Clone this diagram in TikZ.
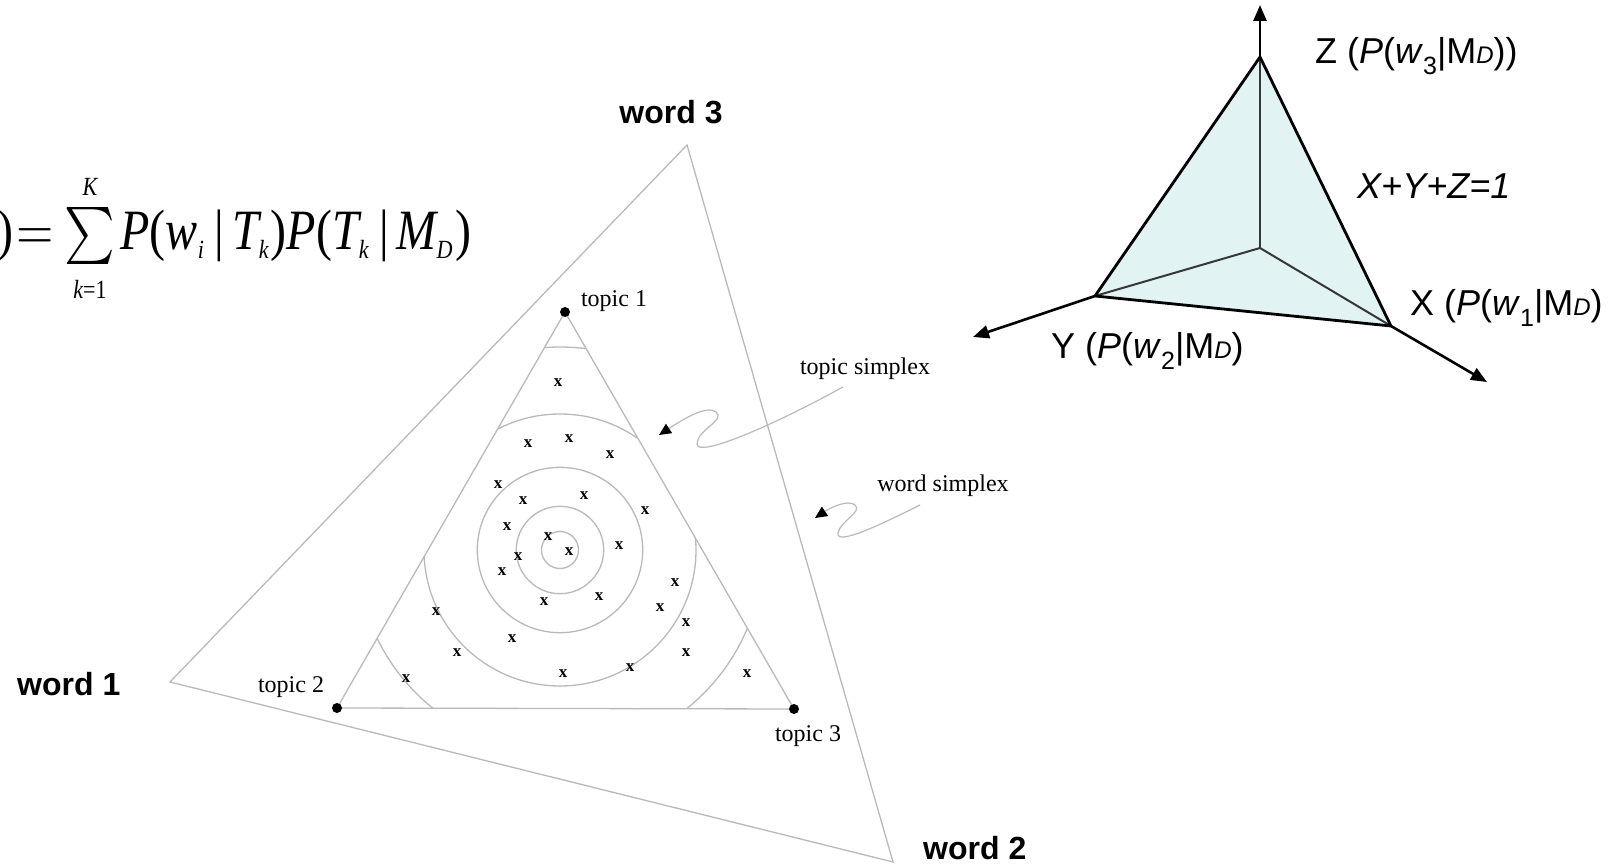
\documentclass[tikz,border=0pt]{standalone}
\usepackage{amsmath}
\usepackage{fontspec}
\setmainfont{Liberation Serif}
\setsansfont{Liberation Sans}
\usetikzlibrary{arrows.meta}
\definecolor{simplexgrey}{RGB}{185,185,185}
\definecolor{planefill}{RGB}{226,243,243}
\definecolor{innerline}{RGB}{55,55,55}
\begin{document}
\begin{tikzpicture}[x=1pt,y=-1pt,
  simplexline/.style={draw=simplexgrey,line width=1.3pt},
  squiggle/.style={draw=simplexgrey,line width=1.2pt,-{Triangle[length=12pt,width=11pt,color=black]}},
  topicdot/.style={circle,fill=black,inner sep=0pt,minimum size=10pt},
  xmark/.style={inner sep=0pt,font=\fontsize{17}{17}\selectfont\bfseries},
  serlabel/.style={inner sep=0pt,font=\fontsize{24}{26}\selectfont},
  wordlabel/.style={inner sep=0pt,font=\sffamily\bfseries\fontsize{32}{34}\selectfont},
  axlabel/.style={inner sep=0pt,anchor=base west,font=\sffamily\fontsize{36}{40}\selectfont},
  axis/.style={line width=2.6pt,-{Triangle[length=16pt,width=13pt]}},
  edge3d/.style={line width=2.8pt,line join=round},
  inner3d/.style={draw=innerline,line width=2pt}]
\useasboundingbox (0,0) rectangle (1623,866);
\newcommand{\smallD}{{\fontsize{24}{24}\selectfont\itshape D}}
\newcommand{\lowsub}[1]{\raisebox{-0.28em}{\fontsize{25}{25}\selectfont #1}}
\newcommand{\ti}[1]{\text{\itshape #1}}
\newcommand{\tu}[1]{\text{#1}}
\newcommand{\limtxt}[1]{\text{\fontsize{4.6}{5}\selectfont #1}}

% formula
\node[anchor=base west,inner sep=0pt,xscale=4.8,yscale=5.7,font=\fontsize{10}{12}\selectfont] (formula) at (-3,250)
  {$\tu{)}\mkern1mu{=}\mkern1mu\sum\limits_{\limtxt{\rule{0pt}{1.35ex}\itshape k\upshape =1}}^{\limtxt{\itshape K}}\mkern-1mu\ti{P}\tu{(}\ti{w}_{\limtxt{\itshape i}}\mkern3mu\tu{|}\mkern3mu\ti{T}_{\limtxt{\itshape k}}\tu{)}\ti{P}\tu{(}\ti{T}_{\limtxt{\itshape k}}\mkern3mu\tu{|}\mkern3mu\ti{M}_{\limtxt{\itshape D}}\tu{)}$};

% word simplex
\coordinate (w3) at (687,145);
\coordinate (w1) at (170,682);
\coordinate (w2) at (893,862);
\path[simplexline] (w3) -- (w1) -- (w2) -- cycle;
\node[wordlabel] (word3) at (671,112) {word 3};
\node[wordlabel,anchor=base west] (word1) at (17,695) {word 1};
\node[wordlabel,anchor=base west] (word2) at (923,859) {word 2};

% topic simplex
\coordinate (t1) at (565,312);
\coordinate (t2) at (337,708);
\coordinate (t3) at (794,709);
\path[simplexline] (t1) -- (t2) -- (t3) -- cycle;
\coordinate (c) at (560,550);
\begin{scope}
  \clip (t1) -- (t2) -- (t3) -- cycle;
  \draw[simplexline] (c) circle[radius=136pt];
  \draw[simplexline] (c) circle[radius=203pt];
\end{scope}
\draw[simplexline] (c) circle[radius=18.5pt];
\draw[simplexline] (c) circle[radius=43.7pt];
\draw[simplexline] (c) circle[radius=82.7pt];
\node[topicdot] (d1) at (t1) {};
\node[topicdot] (d2) at (t2) {};
\node[topicdot] (d3) at (t3) {};
\node[serlabel] (lt1) at (614,301) {topic 1};
\node[serlabel] (lt2) at (291,687) {topic 2};
\node[serlabel] (lt3) at (808,736) {topic 3};

\foreach \a/\b [count=\i] in {558/383,528/444,569/439,610/455,498/485,523/501,584/496,645/511,507/527,548/537,569/552,518/557,619/546,502/572,675/583,544/602,599/597,660/608,686/623,436/612,512/639,457/653,686/653,563/674,630/668,406/679,747/674}
  \node[xmark] (x\i) at (\a,\b) {x};

% squiggly pointers
\node[serlabel] (ts) at (865,369) {topic simplex};
\node[serlabel] (ws) at (943,486) {word simplex};
\coordinate (tsA) at (843,387);
\coordinate (tsTip) at (659,435);
\coordinate (wsA) at (920,505);
\coordinate (wsTip) at (815,518);
\draw[squiggle] (tsA) .. controls (770,427) and (697,458) .. (697,444)
  .. controls (697,430) and (726,420) .. (716,412)
  .. controls (707,405) and (685,418) .. (tsTip);
\draw[squiggle] (wsA) .. controls (880,525) and (836,546) .. (838,533)
  .. controls (840,521) and (863,512) .. (855,505)
  .. controls (848,499) and (830,508) .. (wsTip);

% 3D simplex
\coordinate (O) at (1260,248);
\coordinate (Z) at (1260,57);
\coordinate (Y) at (1095,296);
\coordinate (X) at (1391,326);
\coordinate (Ztip) at (1260,5);
\coordinate (Ytip) at (973,337);
\coordinate (Xtip) at (1487,382);
\fill[planefill] (Z) -- (Y) -- (X) -- cycle;
\draw[inner3d] (O) -- (Z);
\draw[inner3d] (O) -- (Y);
\draw[inner3d] (O) -- (X);
\draw[edge3d] (Z) -- (Y) -- (X) -- cycle;
\draw[axis] (Z) -- (Ztip);
\draw[axis] (Y) -- (Ytip);
\draw[axis] (X) -- (Xtip);
\node[axlabel] (lz) at (1315,64) {Z (\textit{P}(\textit{w}\lowsub{3}|M\smallD))};
\node[axlabel] (lsum) at (1357,199) {\itshape X+Y+Z=1};
\node[axlabel] (lx) at (1410,316) {X (\textit{P}(\textit{w}\lowsub{1}|M\smallD)};
\node[axlabel] (ly) at (1051,359) {Y (\textit{P}(\textit{w}\lowsub{2}|M\smallD)};
\end{tikzpicture}
\end{document}
